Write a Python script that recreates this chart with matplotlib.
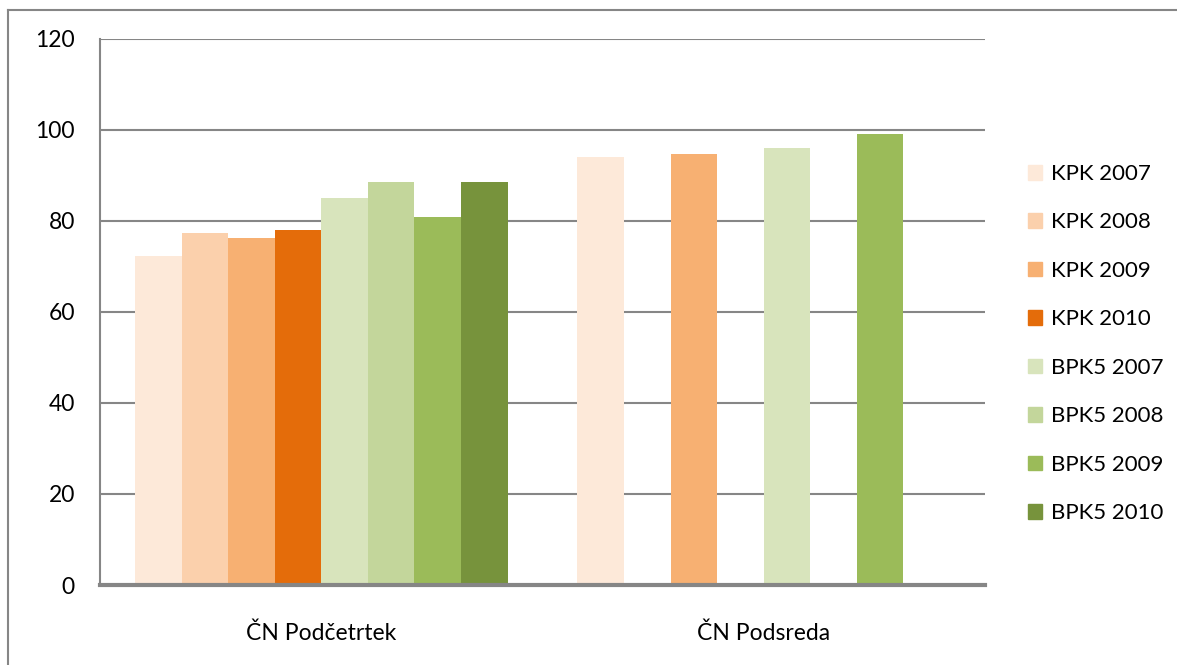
import numpy as np
import matplotlib
matplotlib.use("Agg")
import matplotlib.pyplot as plt
from matplotlib.lines import Line2D

categories = ["ČN Podčetrtek", "ČN Podsreda"]
series = ["KPK 2007", "KPK 2008", "KPK 2009", "KPK 2010",
          "BPK5 2007", "BPK5 2008", "BPK5 2009", "BPK5 2010"]
podcetrtek = [72.2, 77.3, 76.3, 77.9, 85.0, 88.6, 80.7, 88.6]
podsreda = [93.9, np.nan, 94.7, np.nan, 96.0, np.nan, 99.1, np.nan]
colors = ["#FDE9D9", "#FBD0AC", "#F7B072", "#E46C0A",
          "#D8E4BC", "#C3D69B", "#9BBB59", "#77933C"]

plt.rcParams['font.family'] = ['Lato', 'DejaVu Sans']

W, H = 1177, 665
fig = plt.figure(figsize=(W / 100, H / 100), dpi=100)
ax = fig.add_axes([100 / W, 1 - 585 / H, 885 / W, (585 - 38.5) / H])

n = len(series)
width = 1 / (n + 1.5)
x = np.arange(len(categories))
for i, name in enumerate(series):
    vals = [podcetrtek[i], podsreda[i]]
    ax.bar(x + (i - (n - 1) / 2) * width, vals, width, color=colors[i],
           label=name, zorder=3)

ax.set_xlim(-0.5, 1.5)
ax.set_ylim(0, 120)
ax.set_yticks(range(0, 121, 20))
ax.set_xticks(x)
ax.set_xticklabels(categories)
ax.yaxis.grid(True, color="#868686", linewidth=1.5, zorder=0)
for s in ["top", "right"]:
    ax.spines[s].set_visible(False)
ax.spines["left"].set_color("#868686")
ax.spines["left"].set_linewidth(1.5)
ax.spines["bottom"].set_color("#868686")
ax.spines["bottom"].set_linewidth(3)
ax.spines["bottom"].set_zorder(4)
ax.tick_params(axis="both", length=0, labelsize=16.5)
ax.tick_params(axis="y", pad=18)
ax.tick_params(axis="x", pad=27)

handles = [plt.Rectangle((0, 0), 1, 1, color=c) for c in colors]
fig.legend(handles, series, loc="upper left", bbox_to_anchor=(1008 / W, 1 - 144 / H),
           frameon=False, fontsize=16, handlelength=0.64, handleheight=0.64,
           handletextpad=0.4, labelspacing=1.28)

# outer chart border
fig.add_artist(Line2D([8 / W, 1], [1 - 10 / H, 1 - 10 / H], color="#868686", lw=1.5))
fig.add_artist(Line2D([8 / W, 8 / W], [0, 1 - 10 / H], color="#868686", lw=1.5))

fig.savefig("out.png", dpi=100)
